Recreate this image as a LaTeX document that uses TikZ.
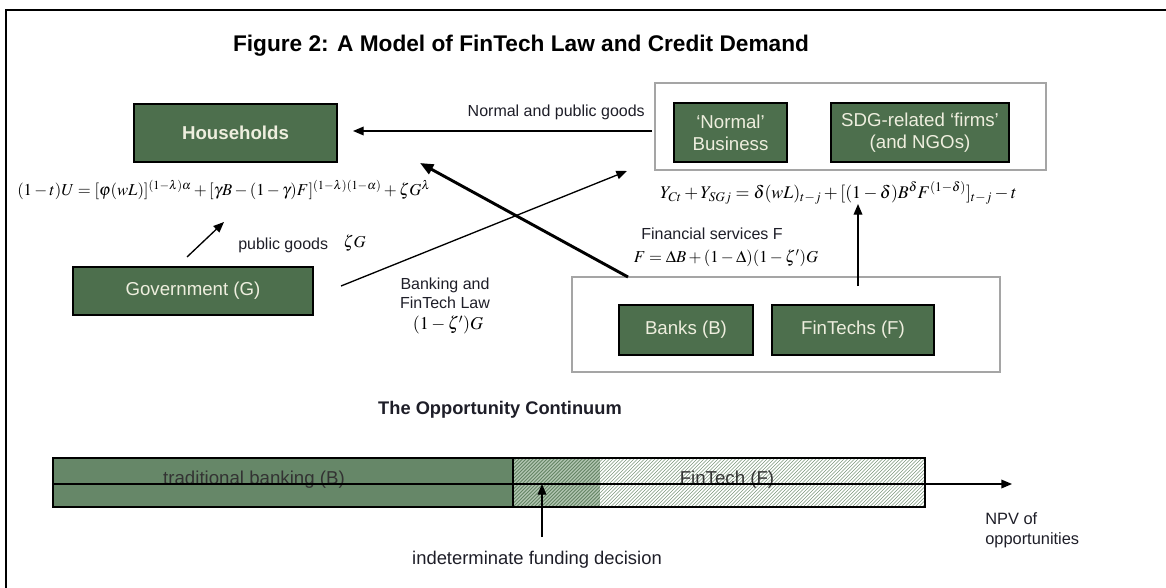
\documentclass[tikz,border=0pt]{standalone}
\usepackage{mathptmx}
\usepackage[no-math]{fontspec}
\setmainfont{Liberation Sans}
\usetikzlibrary{arrows.meta}

\definecolor{boxgreen}{RGB}{77,111,77}
\definecolor{boxtext}{RGB}{238,238,222}
\definecolor{bargreen}{RGB}{102,135,104}
\definecolor{hatchbg}{RGB}{178,198,178}
\definecolor{hatchline}{RGB}{100,132,100}
\definecolor{framegray}{RGB}{165,165,165}
\definecolor{labeltext}{RGB}{30,30,40}

\begin{document}
\begin{tikzpicture}[x=0.75pt,y=-0.75pt,
  gbox/.style={draw=black, line width=1.1pt, fill=boxgreen, text=boxtext,
    font=\fontsize{14}{16.5}\selectfont, align=center, inner sep=0pt},
  group/.style={draw=framegray, line width=0.8pt, inner sep=0pt},
  lbl/.style={font=\fontsize{12}{14}\selectfont, inner sep=0pt, text=labeltext, align=center},
  eqn/.style={font=\fontsize{12.5}{15}\selectfont, inner sep=0pt},
  arr/.style={-{Triangle[length=8pt,width=6.5pt]}, line width=1pt},
  heavy/.style={-{Triangle[length=10pt,width=8pt]}, line width=2.2pt},
]
\useasboundingbox (0,0) rectangle (1166,588);

% outer frame (only top and left edges lie inside the page)
\draw[line width=1.6pt] (6,588) -- (6,10) -- (1166,10);

% title
\node[font=\fontsize{17}{20}\selectfont\bfseries, inner sep=0pt] (title) at (521,46)
  {Figure 2: A Model of FinTech Law and Credit Demand};

% ---------- actors ----------
\node[gbox, minimum width=203*0.75pt, minimum height=58*0.75pt] (hh) at (235.5,133)
  {\bfseries Households};
\node[gbox, minimum width=240*0.75pt, minimum height=48*0.75pt] (gov) at (193,291)
  {Government (G)};

\node[group, minimum width=391*0.75pt, minimum height=87*0.75pt] (firms) at (850.5,126.5) {};
\node[gbox, minimum width=113*0.75pt, minimum height=59*0.75pt] (normal) at (730.5,132.5)
  {‘Normal’\\Business};
\node[gbox, minimum width=178*0.75pt, minimum height=59*0.75pt] (sdg) at (920,132.5)
  {SDG-related ‘firms’\\(and NGOs)};

\node[group, minimum width=428*0.75pt, minimum height=95*0.75pt] (fin) at (786,324.5) {};
\node[gbox, minimum width=134*0.75pt, minimum height=50*0.75pt] (banks) at (686,330)
  {Banks (B)};
\node[gbox, minimum width=162*0.75pt, minimum height=50*0.75pt] (fintechs) at (853,330)
  {FinTechs (F)};

% ---------- equations ----------
\node[eqn, anchor=west] (util) at (17,190)
  {$(1-t)U=[\varphi(wL)]^{(1-\lambda)\alpha}+[\gamma B-(1-\gamma)F]^{(1-\lambda)(1-\alpha)}+\zeta G^{\lambda}$};
\node[eqn, font=\fontsize{13.4}{16}\selectfont, anchor=west] (income) at (660,193)
  {$Y_{Ct}+Y_{SGj}=\delta(wL)_{t-j}+[(1-\delta)B^{\delta}F^{(1-\delta)}]_{t-j}-t$};

% ---------- labels ----------
\node[lbl, anchor=east] (goodslbl) at (645,112) {Normal and public goods};
\node[lbl, anchor=west] (publbl) at (238,245) {public goods};
\node[eqn, anchor=west] (zetag) at (343,243) {$\zeta G$};
\node[lbl] (lawlbl) at (445,293) {Banking and\\FinTech Law};
\node[eqn, font=\fontsize{13.5}{16}\selectfont] (lawg) at (448,325) {$(1-\zeta^{\prime})G$};
\node[lbl] (finlbl) at (712,234) {Financial services F};
\node[eqn] (fineq) at (726,258) {$F=\Delta B+(1-\Delta)(1-\zeta^{\prime})G$};

% ---------- connectors ----------
\coordinate (goodsS) at (652,131);
\coordinate (goodsE) at (353,131);
\draw[arr] (goodsS) -- (goodsE);

\coordinate (govUp) at (187,257);
\coordinate (utilTip) at (224,222);
\draw[arr] (govUp) -- (utilTip);

\coordinate (govRight) at (341,286);
\coordinate (firmsTip) at (627,171);
\draw[arr] (govRight) -- (firmsTip);

\coordinate (finTop) at (628,277);
\coordinate (hhTip) at (420,163);
\draw[heavy] (finTop) -- (hhTip);

\coordinate (ftUp) at (858,286);
\coordinate (incTip) at (858,204);
\draw[arr] (ftUp) -- (incTip);

% ---------- opportunity continuum ----------
\node[font=\fontsize{13.7}{16}\selectfont\bfseries, inner sep=0pt, text=labeltext] (cont) at (500,410)
  {The Opportunity Continuum};

\fill[bargreen] (53,458) rectangle (513,507);
\begin{scope}
  \clip (513,458) rectangle (600,507);
  \fill[hatchbg] (513,458) rectangle (600,507);
  \foreach \i in {0,3.5,...,140}
    \draw[hatchline, line width=0.55pt] (464+\i,507) -- ++(49,-49);
\end{scope}
\begin{scope}
  \clip (600,458) rectangle (925,507);
  \fill[white] (600,458) rectangle (925,507);
  \foreach \i in {0,3.5,...,380}
    \draw[hatchline!85, line width=0.5pt] (551+\i,507) -- ++(49,-49);
\end{scope}
\draw[line width=1.1pt] (53,458) rectangle (925,507);
\draw[line width=1pt] (513,458) -- (513,507);

\node[font=\fontsize{14}{16}\selectfont, inner sep=0pt, text=black!80, anchor=base] (tradlbl) at (254,484)
  {traditional banking (B)};
\node[font=\fontsize{14}{16}\selectfont, inner sep=0pt, text=black!80, anchor=base] (ftlbl) at (727,484)
  {FinTech (F)};

\coordinate (axisL) at (53,484);
\coordinate (axisTip) at (1012,484);
\draw[arr] (axisL) -- (axisTip);

\node[font=\fontsize{12.3}{15}\selectfont, inner sep=0pt, text=labeltext, align=left, anchor=north west] (npv) at (985,512)
  {NPV of\\opportunities};

\node[font=\fontsize{13.8}{16}\selectfont, inner sep=0pt, text=labeltext] (indet) at (537,560)
  {indeterminate funding decision};
\coordinate (indetTip) at (542,484);
\draw[arr] (542,537) -- (indetTip);

\end{tikzpicture}
\end{document}
